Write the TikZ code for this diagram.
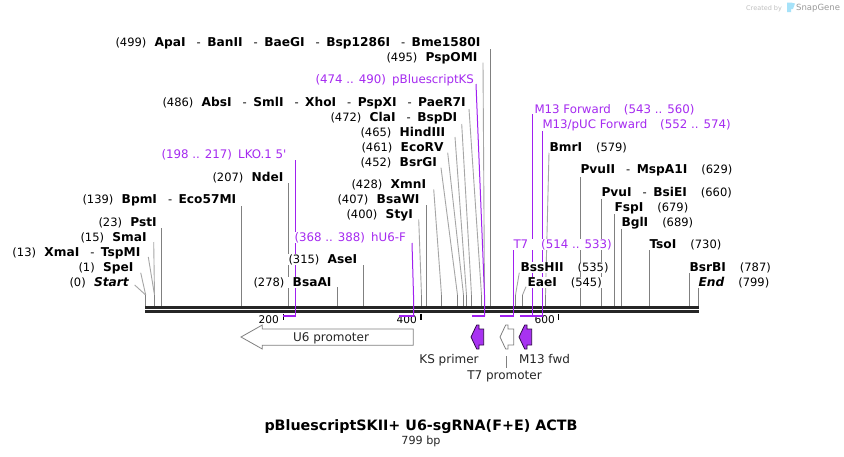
\documentclass[tikz,border=0pt]{standalone}
\usepackage{fontspec}
\setmainfont{DejaVu Sans}
\newfontfamily\plainf{DejaVu Sans}
\definecolor{pur}{HTML}{A020F0}
\definecolor{purl}{HTML}{A52AF0}
\definecolor{lin}{HTML}{808080}
\definecolor{bb}{HTML}{262626}
\newcommand{\nb}[1]{{\fontsize{12.2}{14}\selectfont\textbf{#1}}}
\newcommand{\gp}{\hspace{8.3pt}}
\newcommand{\sepr}{\hspace{11pt}-\hspace{6.5pt}}
\begin{document}
\begin{tikzpicture}[x=1pt,y=-1pt,
  lab/.style={anchor=base west,fill=white,inner sep=0.3pt,text=black,font=\fontsize{11.5}{13}\selectfont},
  plab/.style={anchor=base west,fill=white,inner sep=0.3pt,text=purl,font=\fontsize{11.8}{13}\selectfont},
  site/.style={draw=lin,line width=1pt},
  slant/.style={draw=lin!70,line width=0.9pt},
  prim/.style={draw=pur,line width=1pt},
  primh/.style={draw=pur,line width=1.8pt},
  backbone/.style={draw=bb,line width=3pt},
  tick/.style={draw=black,line width=1.2pt},
  ruler/.style={font=\fontsize{10.6}{13}\selectfont,inner sep=0pt,anchor=base east},
  feat/.style={draw=lin,fill=white,line width=0.8pt},
  featp/.style={draw=black!70!pur,fill=pur!92!white,line width=0.8pt},
  flab/.style={font=\fontsize{12}{14}\selectfont,inner sep=0pt,anchor=base,text=black!85}]
\useasboundingbox (0,0) rectangle (844,456);
\fill[white] (0,0) rectangle (844,456);

% backbone
\coordinate (bbla) at (145,307.5); \coordinate (bbra) at (699,307.5);
\coordinate (bblb) at (145,311.5); \coordinate (bbrb) at (699,311.5);

% sites: t = top, m = bend, b = on backbone
\foreach \n/\tx/\ty/\mx/\bx in {
 start/134.7/285/145.7/145.7, spe/140.7/272.7/145.7/145.7, xma/148.3/257/154.5/154.5, sma/153.7/242/154.5/154.5,
 sty/418.7/219.3/421.5/421.5, xmn/433.7/189.3/441.5/441.5, bsrg/441/167.7/457.5/457.5, eco/447.7/152.7/463.5/463.5,
 hind/455/137/466.5/466.5, cla/461.7/124/471.5/471.5, abs/469/109/481.5/481.5, psp/483/62.7/484.5/484.5,
 bss/519.3/272.7/515.5/515.5, eae/526/286.7/522.5/522.5, bmr/549/152.7/545.5/545.5}{
  \coordinate (\n t) at (\tx,\ty); \coordinate (\n m) at (\mx,295); \coordinate (\n b) at (\bx,306);
  \draw[slant] (\n t) -- (\n m);
  \draw[site] (\n m) -- (\n b);
}
\foreach \n/\tx/\ty in {
 pst/161.5/228, bpm/241.5/206, nde/288.5/183, bsaa/337.5/287, ase/363.5/265, bsaw/426.5/205, apa/490.5/49,
 pvuii/580.5/177, pvui/601.5/199, fsp/614.5/214, bgl/621.5/228, tso/649.5/250, bsrb/689.5/273, endd/698.5/287}{
  \coordinate (\n t) at (\tx,\ty); \coordinate (\n b) at (\tx,306);
  \draw[site] (\n t) -- (\n b);
}
\draw[backbone] (bbla) -- (bbra);
\draw[backbone] (bblb) -- (bbrb);

% ruler
\coordinate (t2a) at (283.3,313.5); \coordinate (t2b) at (283.3,319.5);
\coordinate (t4a) at (421,313.5); \coordinate (t4b) at (421,320);
\coordinate (t6a) at (558.7,313.5); \coordinate (t6b) at (558.7,320);
\draw[tick] (t2a) -- (t2b);
\draw[tick] (t4a) -- (t4b);
\draw[tick] (t6a) -- (t6b);
\node[ruler] (r200) at (279,323) {200};
\node[ruler] (r400) at (417,323) {400};
\node[ruler] (r600) at (555,323) {600};

% primers
\foreach \n/\tx/\ty/\mx/\bx/\lx in {
 lko/295.5/160/295.5/295.5/283, hu/412/243/413.5/413.5/399, ks/476/84/484.5/484.5/472, tsv/513.5/250/513.5/513.5/500,
 mf/532.5/114/532.5/532.5/520, mp/542.5/130/542.5/542.5/520}{
  \coordinate (\n t) at (\tx,\ty); \coordinate (\n m) at (\mx,295); \coordinate (\n b) at (\bx,316); \coordinate (\n l) at (\lx,316);
  \draw[prim] (\n t) -- (\n m) -- (\n b);
  \draw[primh] (\n b) -- (\n l);
}

% labels
\node[lab] (l1) at (115,46) {(499)\gp\nb{ApaI}\sepr\nb{BanII}\sepr\nb{BaeGI}\sepr\nb{Bsp1286I}\sepr\nb{Bme1580I}};
\node[lab] (l2) at (386,61) {(495)\gp\nb{PspOMI}};
\node[plab] (l3) at (315,83) {(474 .. 490)\hspace{2.5pt} pBluescriptKS};
\node[lab] (l4) at (162,106) {(486)\gp\nb{AbsI}\sepr\nb{SmlI}\sepr\nb{XhoI}\sepr\nb{PspXI}\sepr\nb{PaeR7I}};
\node[lab] (l5) at (330,121) {(472)\gp\nb{ClaI}\sepr\nb{BspDI}};
\node[lab] (l6) at (360,136) {(465)\gp\nb{HindIII}};
\node[lab] (l7) at (361,151) {(461)\gp\nb{EcoRV}};
\node[lab] (l8) at (360,166) {(452)\gp\nb{BsrGI}};
\node[lab] (l9) at (351,188) {(428)\gp\nb{XmnI}};
\node[lab] (l10) at (337,203) {(407)\gp\nb{BsaWI}};
\node[lab] (l11) at (346,218) {(400)\gp\nb{StyI}};
\node[plab] (l12) at (294,241) {(368 .. 388)\hspace{2.5pt} hU6-F};
\node[lab] (l13) at (288,263) {(315)\gp\nb{AseI}};
\node[lab] (l14) at (253,286) {(278)\gp\nb{BsaAI}};
\node[lab] (l15) at (212,181) {(207)\gp\nb{NdeI}};
\node[plab] (l16) at (161,158) {(198 .. 217)\hspace{2.5pt} LKO.1 5{\plainf '}};
\node[lab] (l17) at (82,203) {(139)\gp\nb{BpmI}\sepr\nb{Eco57MI}};
\node[lab] (l18) at (98,226) {(23)\gp\nb{PstI}};
\node[lab] (l19) at (80,241) {(15)\gp\nb{SmaI}};
\node[lab] (l20) at (12,256) {(13)\gp\nb{XmaI}\sepr\nb{TspMI}};
\node[lab] (l21) at (78,271) {(1)\gp\nb{SpeI}};
\node[lab] (l22) at (69,286) {(0)\gp{\fontsize{12.2}{14}\selectfont\textbf{\textit{Start}}}};
\node[plab] (r1) at (534,113) {M13 Forward\hspace{13pt}(543 .. 560)};
\node[plab] (r2) at (542,128) {M13/pUC Forward\hspace{13pt}(552 .. 574)};
\node[lab] (r3) at (549,151) {\nb{BmrI}\hspace{14pt}(579)};
\node[lab] (r4) at (580,173) {\nb{PvuII}\sepr\nb{MspA1I}\hspace{14pt}(629)};
\node[lab] (r5) at (601,196) {\nb{PvuI}\sepr\nb{BsiEI}\hspace{14pt}(660)};
\node[lab] (r6) at (614,211) {\nb{FspI}\hspace{14pt}(679)};
\node[lab] (r7) at (621,226) {\nb{BglI}\hspace{14pt}(689)};
\node[lab] (r8) at (649,248) {\nb{TsoI}\hspace{14pt}(730)};
\node[plab] (r9) at (513,248) {T7\hspace{13pt}(514 .. 533)};
\node[lab] (r10) at (520,271) {\nb{BssHII}\hspace{14pt}(535)};
\node[lab] (r11) at (527,286) {\nb{EaeI}\hspace{14pt}(545)};
\node[lab] (r12) at (689,271) {\nb{BsrBI}\hspace{14pt}(787)};
\node[lab] (r13) at (698,286) {{\fontsize{12.2}{14}\selectfont\textbf{\textit{End}}}\hspace{14pt}(799)};

% features
\draw[feat] (241,337) -- (262.3,325) -- (262.3,329) -- (413.3,329) -- (413.3,345.3) -- (262.3,345.3) -- (262.3,349) -- cycle;
\node[flab] (u6) at (331,341) {U6 promoter};
\draw[featp] (471,337) -- (476.7,325) -- (479,325) -- (479,329) -- (483.7,329) -- (483.7,345) -- (479,345) -- (479,349) -- (476.7,349) -- cycle;
\draw[feat] (500,337) -- (505.7,325) -- (508,325) -- (508,329) -- (513.7,329) -- (513.7,345) -- (508,345) -- (508,349) -- (505.7,349) -- cycle;
\draw[featp] (519,337) -- (524.7,325) -- (527,325) -- (527,329) -- (531.7,329) -- (531.7,345) -- (527,345) -- (527,349) -- (524.7,349) -- cycle;
\node[flab] (kslab) at (449,363) {KS primer};
\node[flab] (t7lab) at (504.5,379) {T7 promoter};
\node[flab] (m13lab) at (544.5,363) {M13 fwd};
\coordinate (t7a) at (506.5,356); \coordinate (t7b) at (506.5,368);
\draw[draw=lin,line width=0.7pt] (t7a) -- (t7b);

% title
\node[anchor=base,inner sep=0pt,font=\fontsize{14.3}{17}\bfseries\selectfont] (title) at (421,430) {pBluescriptSKII+ U6-sgRNA(F+E) ACTB};
\node[anchor=base,inner sep=0pt,font=\fontsize{11.2}{13}\selectfont,text=black!85] (bp) at (421,444) {799 bp};

% watermark
\node[anchor=base west,inner sep=0pt,font=\fontsize{6.5}{8}\selectfont,text=black!25] (cb) at (746,10) {Created by};
\fill[cyan!35!white] (787,2.5) rectangle (791,12) (791,2.5) -- (795,3.5) -- (793,9) -- (791,9) -- cycle;
\node[anchor=base west,inner sep=0pt,font=\fontsize{8.5}{10}\selectfont,text=black!40] (sg) at (796,10.5) {SnapGene};
\end{tikzpicture}
\end{document}
